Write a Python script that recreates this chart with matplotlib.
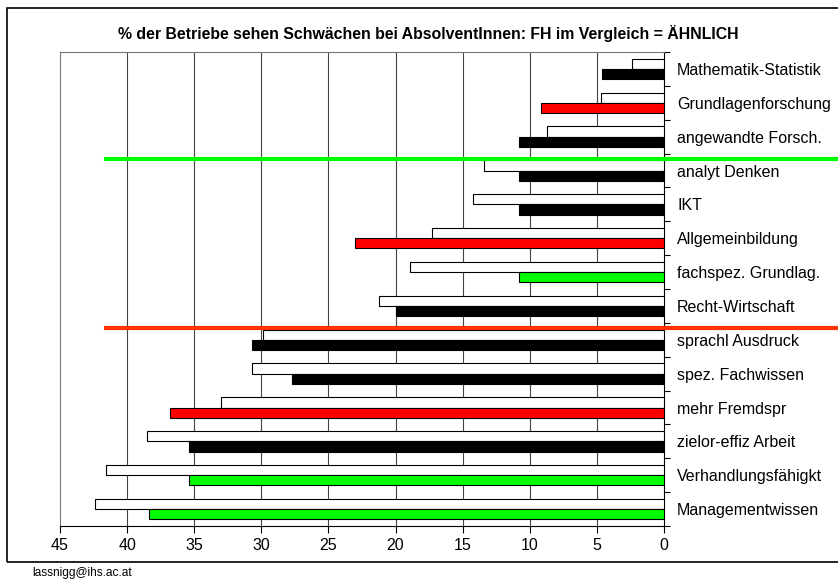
import matplotlib.pyplot as plt
import matplotlib.patches as patches
import numpy as np

plt.rcParams['font.family'] = ['Liberation Sans', 'DejaVu Sans']

# DATA
categories = ['Mathematik-Statistik', 'Grundlagenforschung', 'angewandte Forsch.',
              'analyt Denken', 'IKT', 'Allgemeinbildung', 'fachspez. Grundlag.',
              'Recht-Wirtschaft', 'sprachl Ausdruck', 'spez. Fachwissen',
              'mehr Fremdspr', 'zielor-effiz Arbeit', 'Verhandlungsfähigkt',
              'Managementwissen']
vergleich = [2.4, 4.7, 8.7, 13.4, 14.2, 17.3, 18.9, 21.2, 29.9, 30.7, 33.0, 38.5, 41.6, 42.4]
fh = [4.6, 9.2, 10.8, 10.8, 10.8, 23.0, 10.8, 20.0, 30.7, 27.7, 36.8, 35.4, 35.4, 38.4]
fh_colors = ['#000000', '#FF0000', '#000000', '#000000', '#000000', '#FF0000', '#00FF00',
             '#000000', '#000000', '#000000', '#FF0000', '#000000', '#00FF00', '#00FF00']
xticks = [0, 5, 10, 15, 20, 25, 30, 35, 40, 45]

W, H = 838, 580
fig = plt.figure(figsize=(W / 100, H / 100), dpi=100)
ax = fig.add_axes([60 / W, (H - 526) / H, (664 - 60) / W, (526 - 52) / H])

y = np.arange(len(categories))
ax.barh(y - 0.15, vergleich, height=0.3, color='white', edgecolor='black', linewidth=0.8, zorder=3)
ax.barh(y + 0.15, fh, height=0.3, color=fh_colors, edgecolor='black', linewidth=0.8, zorder=3)

ax.set_xlim(45, 0)
ax.set_ylim(len(categories) - 0.5, -0.5)

# vertical grid
for xv in xticks[1:-1]:
    ax.axvline(xv, color='#444444', linewidth=0.8, zorder=1)

ax.set_xticks(xticks)
ax.set_xticklabels([str(v) for v in xticks], fontsize=11.5)
ax.tick_params(axis='x', direction='out', length=5, width=0.8, pad=4)

ax.yaxis.tick_right()
ax.set_yticks(y)
ax.set_yticklabels(categories, fontsize=11.5)
ax.set_yticks(np.arange(len(categories) + 1) - 0.5, minor=True)
ax.tick_params(axis='y', which='major', length=0, pad=9.5)
ax.tick_params(axis='y', which='minor', length=4, width=0.8, direction='out')

for s in ['top', 'left']:
    ax.spines[s].set_color('#777777')
    ax.spines[s].set_linewidth(0.8)
ax.spines['right'].set_linewidth(0.8)
ax.spines['bottom'].set_linewidth(0.8)

# separator lines
ax.plot([41.6, -15], [2.65, 2.65], color='#00FF00', linewidth=3, clip_on=False, zorder=5)
ax.plot([41.6, -15], [7.65, 7.65], color='#FF3300', linewidth=3, clip_on=False, zorder=5)

fig.text(428 / W, 1 - 33 / H, '% der Betriebe sehen Schwächen bei AbsolventInnen: FH im Vergleich = ÄHNLICH',
         ha='center', va='center', fontsize=11.4, fontweight='bold')
fig.text(32 / W, 1 - 573 / H, 'lassnigg@ihs.ac.at', ha='left', va='center', fontsize=8.6)

fig.patches.append(patches.Rectangle((7 / W, 1 - 562 / H), 1.0, (562 - 8) / H,
                                     transform=fig.transFigure, fill=False,
                                     edgecolor='black', linewidth=1.2))

fig.savefig('out.png', dpi=100)
